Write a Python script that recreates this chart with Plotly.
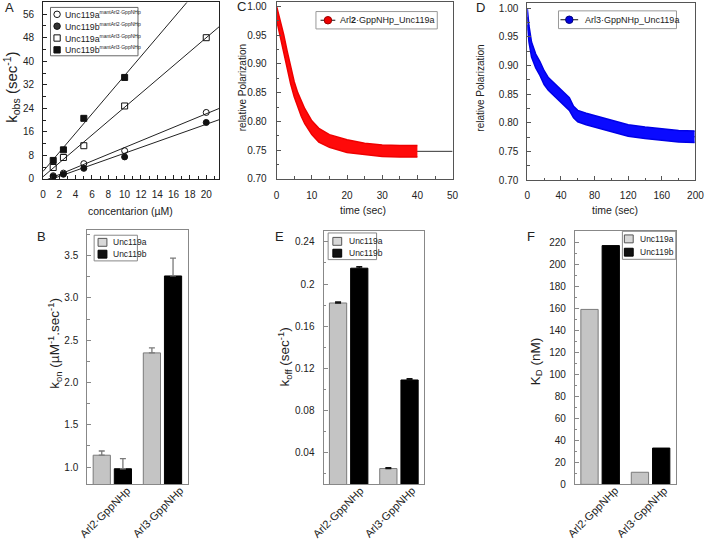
import numpy as np
import plotly.graph_objects as go

W, H = 713, 541
FONT = "Liberation Sans, Arial, sans-serif"

def px(x):
    return x / W

def py(y):
    return 1 - y / H

# ---------------- Panel A data ----------------
conc = [1.25, 2.5, 5, 10, 20]
kobs_a_arl2 = [1.1, 2.0, 5.2, 9.6, 22.6]
kobs_b_arl2 = [0.8, 1.6, 3.6, 7.5, 19.2]
kobs_a_arl3 = [3.9, 7.3, 11.3, 24.8, 48.0]
conc_b_arl3 = [1.25, 2.5, 5, 10]
kobs_b_arl3 = [6.3, 9.9, 20.6, 34.5]

# ---------------- Panel C data (Arl2 / Unc119a) ----------------
t_c = [0, 0.5, 1, 2, 3, 4, 5, 6, 7, 8, 10, 12, 15, 20, 25, 30, 35, 40]
pol_c = [0.988, 0.975, 0.962, 0.937, 0.908, 0.879, 0.856, 0.837, 0.822, 0.809,
         0.789, 0.776, 0.766, 0.757, 0.752, 0.749, 0.748, 0.748]
spread_c = [0.012, 0.013, 0.014, 0.014, 0.014, 0.014, 0.013, 0.013, 0.013, 0.013,
            0.012, 0.012, 0.011, 0.011, 0.010, 0.010, 0.010, 0.010]
fit_end_c = [50, 0.748]

# ---------------- Panel D data (Arl3 / Unc119a) ----------------
t_d = [0, 1, 2, 5, 10, 15, 20, 25, 30, 40, 50, 55, 60, 70, 80, 100, 120, 140, 160, 180, 199]
pol_d = [0.985, 0.968, 0.955, 0.928, 0.908, 0.895, 0.879, 0.868, 0.861, 0.848, 0.833,
         0.819, 0.812, 0.807, 0.803, 0.794, 0.787, 0.783, 0.780, 0.777, 0.776]
spread_d = [0.014, 0.014, 0.014, 0.013, 0.012, 0.012, 0.012, 0.011, 0.011, 0.011, 0.011,
            0.010, 0.010, 0.010, 0.010, 0.010, 0.010, 0.010, 0.010, 0.010, 0.010]
fit_end_d = [200, 0.777]

# ---------------- Bar data ----------------
proteins = ["Arl2·GppNHp", "Arl3·GppNHp"]
kon_a = [1.14, 2.35]
kon_a_err = [0.05, 0.06]
kon_b = [0.98, 3.26]
kon_b_err = [0.12, 0.21]
koff_a = [0.182, 0.025]
koff_a_err = [0.001, 0.0008]
koff_b = [0.215, 0.109]
koff_b_err = [0.0015, 0.0012]
kd_a = [159, 11]
kd_b = [217, 33]

fig = go.Figure()

# ---- Panel A ----
xfit = np.array([0.0, 21.6])
series_a = [
    (conc, kobs_a_arl2, "circle-open"),
    (conc, kobs_b_arl2, "circle"),
    (conc, kobs_a_arl3, "square-open"),
    (conc_b_arl3, kobs_b_arl3, "square"),
]
for xs, ys, sym in series_a:
    m, b = np.polyfit(xs, ys, 1)
    fig.add_trace(go.Scatter(x=xfit, y=m * xfit + b, mode="lines",
                             line=dict(color="#222", width=1), xaxis="x", yaxis="y",
                             showlegend=False, hoverinfo="skip"))
for xs, ys, sym in series_a:
    fig.add_trace(go.Scatter(x=xs, y=ys, mode="markers", xaxis="x", yaxis="y",
                             marker=dict(symbol=sym, size=6, color="#111",
                                         line=dict(color="#111", width=1)),
                             showlegend=False))

# ---- Panel C ----
tc = np.array(t_c); pc = np.array(pol_c); sc = np.array(spread_c)
fig.add_trace(go.Scatter(x=list(t_c) + [fit_end_c[0]], y=list(pol_c) + [fit_end_c[1]],
                         mode="lines", line=dict(color="#333", width=1),
                         xaxis="x2", yaxis="y2", showlegend=False))
fig.add_trace(go.Scatter(x=tc, y=pc + sc, mode="lines", line=dict(color="#ee0000", width=1.5),
                         xaxis="x2", yaxis="y2", showlegend=False))
fig.add_trace(go.Scatter(x=tc, y=pc - sc, mode="lines", line=dict(color="#ee0000", width=1.5),
                         fill="tonexty", fillcolor="#ff0a0a",
                         xaxis="x2", yaxis="y2", showlegend=False))

# ---- Panel D ----
td = np.array(t_d); pd_ = np.array(pol_d); sd = np.array(spread_d)
fig.add_trace(go.Scatter(x=list(t_d) + [fit_end_d[0]], y=list(pol_d) + [fit_end_d[1]],
                         mode="lines", line=dict(color="#333", width=1),
                         xaxis="x3", yaxis="y3", showlegend=False))
fig.add_trace(go.Scatter(x=td, y=pd_ + sd, mode="lines", line=dict(color="#0000e6", width=1.5),
                         xaxis="x3", yaxis="y3", showlegend=False))
fig.add_trace(go.Scatter(x=td, y=pd_ - sd, mode="lines", line=dict(color="#0000e6", width=1.5),
                         fill="tonexty", fillcolor="#0a0aff",
                         xaxis="x3", yaxis="y3", showlegend=False))

# ---- Bars ----
GRAY = "#c4c4c4"
GRAY_LINE = "#7a7a7a"

def add_bars(xa, ya, va, vb, ea=None, eb=None, ecol_a=GRAY_LINE, ecol_b=GRAY_LINE):
    fig.add_trace(go.Bar(x=proteins, y=va, xaxis=xa, yaxis=ya, showlegend=False,
                         marker=dict(color=GRAY, line=dict(color=GRAY_LINE, width=1)),
                         error_y=None if ea is None else dict(type="data", array=ea, arrayminus=[0] * len(ea),
                                                              symmetric=False, color=ecol_a,
                                                              thickness=1.3, width=3)))
    fig.add_trace(go.Bar(x=proteins, y=vb, xaxis=xa, yaxis=ya, showlegend=False,
                         marker=dict(color="#000", line=dict(color="#000", width=1)),
                         error_y=None if eb is None else dict(type="data", array=eb, arrayminus=[0] * len(eb),
                                                              symmetric=False, color=ecol_b,
                                                              thickness=1.3, width=3)))

add_bars("x4", "y4", kon_a, kon_b, kon_a_err, kon_b_err)
add_bars("x5", "y5", koff_a, koff_b, koff_a_err, koff_b_err, "#111", "#111")
add_bars("x6", "y6", kd_a, kd_b)

# ---- Axes ----
def axis(domain, rng, dtick, minor, linecolor="#222", **kw):
    d = dict(domain=domain, range=rng, dtick=dtick, tick0=0, showline=True, mirror=True,
             linecolor=linecolor, linewidth=1, ticks="inside", ticklen=4, tickcolor=linecolor,
             showgrid=False, zeroline=False, ticklabeloverflow="allow",
             tickfont=dict(size=10, color="#222", family=FONT),
             minor=dict(ticks="inside", ticklen=2.5, dtick=minor, tickcolor=linecolor, showgrid=False))
    d.update(kw)
    return d

lay = dict(
    width=W, height=H, margin=dict(l=0, r=0, t=0, b=0),
    paper_bgcolor="white", plot_bgcolor="white",
    font=dict(family=FONT, color="#222"),
    barmode="group", bargap=0.157, bargroupgap=0.186,
    showlegend=False,
)
# A
lay["xaxis"] = axis([px(40.7), px(220)], [0, 21.6], 2, 1, anchor="y", ticklabelstandoff=6)
lay["yaxis"] = axis([py(180.3), py(1.4)], [0, 60], 8, 4, anchor="x", ticklabelstandoff=6)
# C
lay["xaxis2"] = axis([px(278.3), px(457.3)], [0, 50], 10, 5, linecolor="#555", anchor="y2", ticklabelstandoff=7)
lay["yaxis2"] = axis([py(180.3), py(1.0)], [0.70, 1.0075], 0.05, 0.025, linecolor="#555", anchor="x2",
                     tickformat=".2f", ticklabelstandoff=7)
# D
lay["xaxis3"] = axis([px(533.3), px(704.3)], [0, 200], 40, 20, linecolor="#555", anchor="y3", ticklabelstandoff=6)
lay["yaxis3"] = axis([py(181.7), py(1.7)], [0.70, 1.0096], 0.05, 0.025, linecolor="#555", anchor="x3",
                     tickformat=".2f", ticklabelstandoff=6)

def bar_x(domain, anchor):
    return dict(domain=domain, type="category", anchor=anchor, showline=True, mirror=True,
                linecolor="#888", linewidth=1, ticks="", showgrid=False, zeroline=False,
                showticklabels=False)

lay["xaxis4"] = bar_x([px(85.7), px(187.7)], "y4")
lay["yaxis4"] = axis([py(489.3), py(232.3)], [0.8, 3.8], 0.5, 0.25, linecolor="#888", anchor="x4",
                     tickformat=".1f", ticklabelstandoff=6)
lay["xaxis5"] = bar_x([px(326), px(428.3)], "y5")
lay["yaxis5"] = axis([py(489.7), py(233.3)], [0.01, 0.25], 0.04, 0.02, linecolor="#888", anchor="x5",
                     ticklabelstandoff=6, tickvals=[0.04, 0.08, 0.12, 0.16, 0.2, 0.24],
                     ticktext=["0.04", "0.08", "0.12", "0.16", "0.2", "0.24"])
lay["xaxis6"] = bar_x([px(581.7), px(684.3)], "y6")
lay["yaxis6"] = axis([py(489.7), py(233.3)], [0, 230], 20, 10, linecolor="#888", anchor="x6",
                     ticklabelstandoff=6)

fig.update_layout(**lay)

annotations = []
shapes = []

def text(x, y, s, size, angle=0, xanchor="center", yanchor="middle", color="#222"):
    annotations.append(dict(x=px(x), y=py(y), xref="paper", yref="paper", text=s, showarrow=False,
                            textangle=angle, xanchor=xanchor, yanchor=yanchor,
                            font=dict(size=size, family=FONT, color=color)))

# Panel letters
text(7, 7, "A", 13)
text(243, 6, "C", 13)
text(486, 7, "D", 13)
text(39, 239, "B", 13)
text(281, 239, "E", 13)
text(537, 239, "F", 13)

# Axis titles
text(9, 87, "k<sub>obs</sub> (sec<sup>-1</sup>)", 15, angle=-90)
text(130, 212.5, "concentarion (µM)", 10.5)
text(243.5, 88, "relative Polarization", 10, angle=-90)
text(366, 211.5, "time (sec)", 10.5)
text(486, 88, "relative Polarization", 10, angle=-90)
text(622, 211.5, "time (sec)", 10.5)
text(52, 347, "k<sub>on</sub> (µM<sup>-1</sup>.sec<sup>-1</sup>)", 13.5, angle=-90)
text(287, 361, "k<sub>off</sub> (sec<sup>-1</sup>)", 13.5, angle=-90)
text(542, 365, "K<sub>D</sub> (nM)", 13.5, angle=-90)

# Rotated category labels under the bar panels
label_anchor_x = {"B": [135, 188.5], "E": [372, 424.5], "F": [631, 681]}
for panel, xs in label_anchor_x.items():
    for lab, xr in zip(proteins, xs):
        text(xr, 487, lab, 11, angle=-45, xanchor="right", yanchor="top")

def rect(x0, y0, x1, y1, line="#888", fill="white", width=1):
    shapes.append(dict(type="rect", xref="paper", yref="paper", x0=px(x0), x1=px(x1),
                       y0=py(y1), y1=py(y0), line=dict(color=line, width=width), fillcolor=fill))

def circ(cx, cy, r, line="#111", fill="white", width=1):
    shapes.append(dict(type="circle", xref="paper", yref="paper", x0=px(cx - r), x1=px(cx + r),
                       y0=py(cy + r), y1=py(cy - r), line=dict(color=line, width=width), fillcolor=fill))

def hline(x0, x1, y, color="#111", width=1):
    shapes.append(dict(type="line", xref="paper", yref="paper", x0=px(x0), x1=px(x1),
                       y0=py(y), y1=py(y), line=dict(color=color, width=width)))

# Legend A
rect(48.3, 6.5, 137.3, 55.5, line="#666")
sup_small = '<sup><span style="font-size:5px">mantArl%s·GppNHp</span></sup>'
leg_a = [("Unc119a", "2", "circle", "white"), ("Unc119b", "2", "circle", "#333"),
         ("Unc119a", "3", "square", "white"), ("Unc119b", "3", "square", "#111")]
for i, (name, arl, shp, fill) in enumerate(leg_a):
    cy = 13.5 + i * 12
    if shp == "circle":
        circ(55, cy, 3.3, fill=fill)
    else:
        rect(51.8, cy - 3.2, 58.2, cy + 3.2, line="#111", fill=fill)
    text(61.5, cy, name + sup_small % arl, 8.8, xanchor="left")

# Legend C
rect(318.3, 10.7, 441.7, 28.3, line="#999")
hline(323, 338, 19.5)
circ(330.5, 19.5, 3.8, line="#900", fill="#ee0000")
text(341, 19.5, "Arl<b>2</b>·GppNHp_Unc119a", 9, xanchor="left")

# Legend D
rect(565, 10, 685, 28, line="#999")
hline(567, 585, 19)
circ(576, 19, 3.8, line="#000080", fill="#0000dd")
text(589.5, 19, "Arl3·GppNHp_Unc119a", 9, xanchor="left")

# Bar legends
def bar_legend(x0, y0, x1, y1, sq_x, ys, tx):
    rect(x0, y0, x1, y1, line="#888")
    rect(sq_x, ys[0] - 4, sq_x + 9, ys[0] + 4, line="#555", fill="#d8d8d8")
    rect(sq_x, ys[1] - 4, sq_x + 9, ys[1] + 4, line="#000", fill="#111")
    text(tx, ys[0], "Unc119a", 8.5, xanchor="left")
    text(tx, ys[1], "Unc119b", 8.5, xanchor="left")

bar_legend(92.7, 237.3, 136.7, 263.3, 96.7, [244.5, 256.5], 109.5)
bar_legend(330.7, 235, 380, 262, 335.5, [243.5, 255.5], 349.5)
bar_legend(630, 233.3, 684.3, 261.7, 632, [241, 254.5], 645.5)

fig.update_layout(annotations=annotations, shapes=shapes)
fig.write_html("out.html", config={"displayModeBar": False},
               post_script="document.body.style.margin='0';document.body.style.overflow='hidden';")
